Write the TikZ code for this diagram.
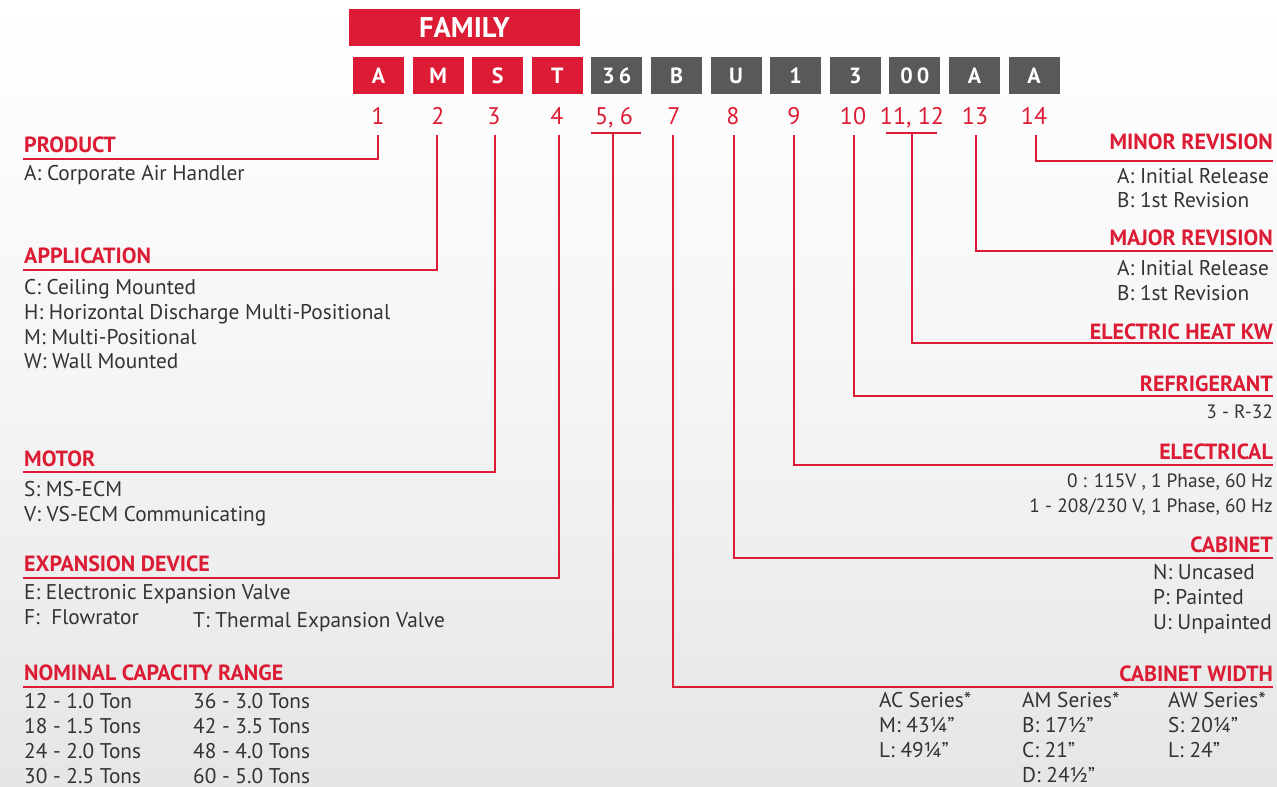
\documentclass[tikz,border=0pt]{standalone}
\usepackage{fontspec}
\setmainfont{PT Sans}
\definecolor{hred}{HTML}{DC1C35}
\definecolor{bgray}{HTML}{58595B}
\definecolor{txt}{HTML}{333333}
\begin{document}
\begin{tikzpicture}[x=1pt,y=-1pt,
  box/.style={minimum width=51pt,minimum height=37pt,inner sep=0pt,text=white,font=\bfseries\fontsize{22}{22}\selectfont},
  redbox/.style={box,fill=hred},
  graybox/.style={box,fill=bgray},
  num/.style={text=hred,inner sep=0pt,anchor=base,font=\fontsize{24}{24}\selectfont},
  head/.style={text=hred,inner sep=0pt,font=\bfseries\fontsize{22}{22}\selectfont},
  itemtxt/.style={text=txt,inner sep=0pt,font=\fontsize{21.3}{21.3}\selectfont},
  digtxt/.style={itemtxt,font=\fontsize{19.3}{19.3}\selectfont},
  conn/.style={draw=hred,line width=2pt}]
\useasboundingbox (0,0) rectangle (1277,787);
\shade[top color=white,bottom color=black!10,middle color=white!96!black] (0,0) rectangle (1277,787);

% family box
\node[redbox,minimum width=231pt,minimum height=37pt,font=\bfseries\fontsize{28.5}{28.5}\selectfont] (fam) at (464.5,27.5) {FAMILY};

% code boxes
\foreach \i/\t/\s in {0/A/redbox,1/M/redbox,2/S/redbox,3/T/redbox,4/3\hspace{4pt}6/graybox,5/B/graybox,6/U/graybox,7/1/graybox,8/3/graybox,9/0\hspace{4pt}0/graybox,10/A/graybox,11/A/graybox}
  \node[\s] (b\i) at ({378.5+59.6*\i},75.5) {\t};

% position numbers
\node[num] (n1) at (378,124) {1};
\node[num] (n2) at (438,124) {2};
\node[num] (n3) at (494,124) {3};
\node[num] (n4) at (557,124) {4};
\node[num] (n56) at (614,124) {5, 6};
\node[num] (n7) at (674,124) {7};
\node[num] (n8) at (733,124) {8};
\node[num] (n9) at (794,124) {9};
\node[num] (n10) at (853,124) {10};
\node[num] (n1112) at (912,124) {11, 12};
\node[num] (n13) at (975,124) {13};
\node[num] (n14) at (1034,124) {14};

% connector start points
\coordinate (t1) at (378,135);
\coordinate (t2) at (437,135);
\coordinate (t3) at (495,135);
\coordinate (t4) at (559,135);
\coordinate (u56a) at (591,133);
\coordinate (u56b) at (641,133);
\coordinate (t56) at (613,133);
\coordinate (t7) at (673,135);
\coordinate (t8) at (734,135);
\coordinate (t9) at (794,135);
\coordinate (t10) at (854,135);
\coordinate (u1112a) at (886,133);
\coordinate (u1112b) at (937,133);
\coordinate (t1112) at (912,133);
\coordinate (t13) at (976,135);
\coordinate (t14) at (1036,135);

% connector ends
\coordinate (e1) at (23,159);
\coordinate (e2) at (23,270);
\coordinate (e3) at (23,472);
\coordinate (e4) at (23,578);
\coordinate (e56) at (23,687);
\coordinate (e7) at (1273,687);
\coordinate (e8) at (1273,558);
\coordinate (e9) at (1273,465);
\coordinate (e10) at (1273,396);
\coordinate (e1112) at (1273,343);
\coordinate (e13) at (1273,251);
\coordinate (e14) at (1273,161);

\draw[conn] (u56a) -- (u56b);
\draw[conn] (u1112a) -- (u1112b);
\draw[conn] (t1) |- (e1);
\draw[conn] (t2) |- (e2);
\draw[conn] (t3) |- (e3);
\draw[conn] (t4) |- (e4);
\draw[conn] (t56) |- (e56);
\draw[conn] (t7) |- (e7);
\draw[conn] (t8) |- (e8);
\draw[conn] (t9) |- (e9);
\draw[conn] (t10) |- (e10);
\draw[conn] (t1112) |- (e1112);
\draw[conn] (t13) |- (e13);
\draw[conn] (t14) |- (e14);

% ---- left side ----
\node[head,anchor=base west] (hprod) at (24,152) {PRODUCT};
\node[itemtxt,anchor=base west] (prod1) at (24,180) {A: Corporate Air Handler};

\node[head,anchor=base west] (happ) at (24,263) {APPLICATION};
\node[itemtxt,anchor=base west] (app1) at (24,294) {C: Ceiling Mounted};
\node[itemtxt,anchor=base west] (app2) at (24,319) {H: Horizontal Discharge Multi-Positional};
\node[itemtxt,anchor=base west] (app3) at (24,344) {M: Multi-Positional};
\node[itemtxt,anchor=base west] (app4) at (24,368) {W: Wall Mounted};

\node[head,anchor=base west] (hmot) at (24,466) {MOTOR};
\node[itemtxt,anchor=base west] (mot1) at (24,496) {S: MS-ECM};
\node[itemtxt,anchor=base west] (mot2) at (24,521) {V: VS-ECM Communicating};

\node[head,anchor=base west] (hexp) at (24,571) {EXPANSION DEVICE};
\node[itemtxt,anchor=base west] (exp1) at (24,599) {E: Electronic Expansion Valve};
\node[itemtxt,anchor=base west] (exp2) at (24,624) {F:\ \ Flowrator};
\node[itemtxt,anchor=base west] (exp3) at (193,627) {T: Thermal Expansion Valve};

\node[head,anchor=base west] (hnom) at (24,680) {NOMINAL CAPACITY RANGE};
\node[itemtxt,anchor=base west] (nom1) at (24,708) {12 - 1.0 Ton};
\node[itemtxt,anchor=base west] (nom2) at (24,733) {18 - 1.5 Tons};
\node[itemtxt,anchor=base west] (nom3) at (24,758) {24 - 2.0 Tons};
\node[itemtxt,anchor=base west] (nom4) at (24,783) {30 - 2.5 Tons};
\node[itemtxt,anchor=base west] (nom5) at (193,708) {36 - 3.0 Tons};
\node[itemtxt,anchor=base west] (nom6) at (193,733) {42 - 3.5 Tons};
\node[itemtxt,anchor=base west] (nom7) at (193,758) {48 - 4.0 Tons};
\node[itemtxt,anchor=base west] (nom8) at (193,783) {60 - 5.0 Tons};

% ---- right side ----
\node[head,anchor=base east] (hmin) at (1273,149) {MINOR REVISION};
\node[itemtxt,anchor=base west] (min1) at (1117,183) {A: Initial Release};
\node[itemtxt,anchor=base west] (min2) at (1117,207) {B: 1st Revision};

\node[head,anchor=base east] (hmaj) at (1273,245) {MAJOR REVISION};
\node[itemtxt,anchor=base west] (maj1) at (1117,275) {A: Initial Release};
\node[itemtxt,anchor=base west] (maj2) at (1117,300) {B: 1st Revision};

\node[head,anchor=base east] (hheat) at (1273,339) {ELECTRIC HEAT KW};

\node[head,anchor=base east] (hrefr) at (1273,391) {REFRIGERANT};
\node[digtxt,anchor=base east] (refr1) at (1273,418) {3 - R-32};

\node[head,anchor=base east] (helec) at (1273,459) {ELECTRICAL};
\node[digtxt,anchor=base east] (elec1) at (1273,487) {0 : 115V , 1 Phase, 60 Hz};
\node[digtxt,anchor=base east] (elec2) at (1273,512) {1 - 208/230 V, 1 Phase, 60 Hz};

\node[head,anchor=base east] (hcab) at (1273,552) {CABINET};
\node[itemtxt,anchor=base west] (cab1) at (1153,579) {N: Uncased};
\node[itemtxt,anchor=base west] (cab2) at (1153,604) {P: Painted};
\node[itemtxt,anchor=base west] (cab3) at (1153,629) {U: Unpainted};

\node[head,anchor=base east] (hcw) at (1273,681) {CABINET WIDTH};
\node[itemtxt,anchor=base west] (ac0) at (879,707) {AC Series*};
\node[itemtxt,anchor=base west] (ac1) at (879,732) {M: 43¼''};
\node[itemtxt,anchor=base west] (ac2) at (879,757) {L: 49¼''};
\node[itemtxt,anchor=base west] (am0) at (1022,707) {AM Series*};
\node[itemtxt,anchor=base west] (am1) at (1022,732) {B: 17½''};
\node[itemtxt,anchor=base west] (am2) at (1022,757) {C: 21''};
\node[itemtxt,anchor=base west] (am3) at (1022,782) {D: 24½''};
\node[itemtxt,anchor=base west] (aw0) at (1168,707) {AW Series*};
\node[itemtxt,anchor=base west] (aw1) at (1168,732) {S: 20¼''};
\node[itemtxt,anchor=base west] (aw2) at (1168,757) {L: 24''};
\end{tikzpicture}
\end{document}
